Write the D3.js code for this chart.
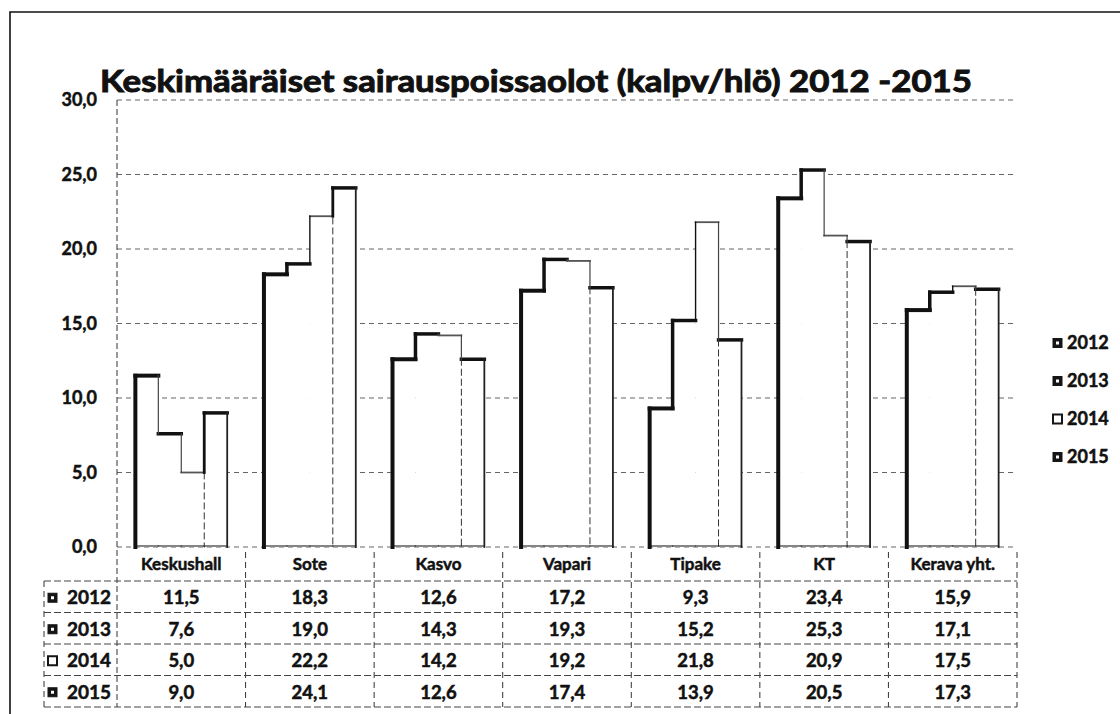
<!DOCTYPE html>
<html>
<head>
<meta charset="utf-8">
<script src="https://cdn.jsdelivr.net/npm/d3@7"></script>
<style>
  body { margin: 0; background: #fff; }
  svg { display: block; }
  text { font-family: Lato, "Open Sans", sans-serif; font-weight: bold; fill: #111; stroke: #111; stroke-width: 0.5px; }
  text.title { stroke-width: 1px; }
</style>
</head>
<body>
<div id="chart"></div>
<script>
// data
var categories = ['Keskushall', 'Sote', 'Kasvo', 'Vapari', 'Tipake', 'KT', 'Kerava yht.'];
var years = ['2012', '2013', '2014', '2015'];
var values2012 = [11.5, 18.3, 12.6, 17.2, 9.3, 23.4, 15.9];
var values2013 = [7.6, 19.0, 14.3, 19.3, 15.2, 25.3, 17.1];
var values2014 = [5.0, 22.2, 14.2, 19.2, 21.8, 20.9, 17.5];
var values2015 = [9.0, 24.1, 12.6, 17.4, 13.9, 20.5, 17.3];
var yTicks = [0, 5, 10, 15, 20, 25, 30];
var title = 'Keskimääräiset sairauspoissaolot (kalpv/hlö) 2012 -2015';

var series = [values2012, values2013, values2014, values2015];

var width = 1120, height = 714;
var plot = {left: 117, right: 1017, top: 100, bottom: 547};
var table = {left: 44, top: 581, rowH: 31.5};

var fi = d3.formatLocale({decimal: ',', thousands: ' ', grouping: [3], currency: ['', '']});
var fmt = fi.format('.1f');

var svg = d3.select('#chart').append('svg')
    .attr('width', width)
    .attr('height', height);

var x0 = d3.scaleBand()
    .domain(categories)
    .range([plot.left, plot.right])
    .paddingInner(0);

var x1 = d3.scaleBand()
    .domain(years)
    .range([0, x0.bandwidth()])
    .paddingOuter(0.8);

var y = d3.scaleLinear()
    .domain([0, 30])
    .range([plot.bottom, plot.top]);

// outer chart border (cut at right and bottom in the scan)
svg.append('path')
    .attr('d', 'M10,' + height + 'V12H' + width)
    .attr('fill', 'none')
    .attr('stroke', '#111')
    .attr('stroke-width', 1.6);

// title
svg.append('text')
    .attr('class', 'title')
    .attr('x', 100)
    .attr('y', 92)
    .attr('font-size', 31)
    .attr('textLength', 872)
    .attr('lengthAdjust', 'spacingAndGlyphs')
    .text(title);

// gridlines
svg.append('g').selectAll('line')
    .data(yTicks)
    .enter().append('line')
    .attr('x1', plot.left)
    .attr('x2', plot.right)
    .attr('y1', function(d) { return y(d); })
    .attr('y2', function(d) { return y(d); })
    .attr('stroke', '#666')
    .attr('stroke-width', 1)
    .attr('stroke-dasharray', '5,4');

// y axis line + labels
svg.append('line')
    .attr('x1', plot.left).attr('x2', plot.left)
    .attr('y1', plot.top).attr('y2', table.top + table.rowH * 4)
    .attr('stroke', '#333')
    .attr('stroke-dasharray', '6,3');

svg.append('g').selectAll('text')
    .data(yTicks)
    .enter().append('text')
    .attr('x', 97)
    .attr('y', function(d) { return y(d); })
    .attr('dy', '0.35em')
    .attr('text-anchor', 'end')
    .attr('font-size', 18)
    .text(function(d) { return fmt(d); });

// bars: white fills first, then the outline pieces the scan shows
var bars = [];
categories.forEach(function(c, ci) {
    years.forEach(function(yr, si) {
        bars.push({cat: c, year: yr, si: si, value: series[si][ci],
                   prev: si > 0 ? series[si - 1][ci] : null});
    });
});

svg.append('g').selectAll('rect')
    .data(bars)
    .enter().append('rect')
    .attr('x', function(d) { return x0(d.cat) + x1(d.year); })
    .attr('width', x1.bandwidth())
    .attr('y', function(d) { return y(d.value); })
    .attr('height', function(d) { return y(0) - y(d.value); })
    .attr('fill', '#fff');

var topWidth = [4, 3.5, 1.8, 3.5];
var topColor = ['#111', '#111', '#555', '#111'];
var riseWidth = [4, 3.5, 1.4, 2.8];

var edges = svg.append('g').attr('fill', 'none').attr('stroke-linecap', 'square');

bars.forEach(function(d) {
    var bx = x0(d.cat) + x1(d.year),
        bw = x1.bandwidth(),
        by = y(d.value);

    // bottom
    edges.append('line')
        .attr('x1', bx).attr('x2', bx + bw)
        .attr('y1', y(0) - 1).attr('y2', y(0) - 1)
        .attr('stroke', '#333').attr('stroke-width', 1.2);

    // top
    edges.append('line')
        .attr('x1', bx).attr('x2', bx + bw)
        .attr('y1', by).attr('y2', by)
        .attr('stroke', topColor[d.si]).attr('stroke-width', topWidth[d.si]);

    if (d.si === 0) {
        edges.append('line')
            .attr('x1', bx).attr('x2', bx)
            .attr('y1', by).attr('y2', y(0))
            .attr('stroke', '#111').attr('stroke-width', 4);
    } else {
        if (d.si === 3) {
            edges.append('line')
                .attr('x1', bx).attr('x2', bx)
                .attr('y1', by).attr('y2', y(0))
                .attr('stroke', '#333').attr('stroke-width', 1)
                .attr('stroke-dasharray', '6,4');
        }
        // step between neighbouring bars
        var rising = d.value > d.prev;
        edges.append('line')
            .attr('x1', bx).attr('x2', bx)
            .attr('y1', by).attr('y2', y(d.prev))
            .attr('stroke', rising ? '#111' : '#444')
            .attr('stroke-width', rising ? riseWidth[d.si] : 1.2);
    }

    if (d.si === 3) {
        edges.append('line')
            .attr('x1', bx + bw).attr('x2', bx + bw)
            .attr('y1', by).attr('y2', y(0))
            .attr('stroke', '#222').attr('stroke-width', 1.8);
    }
});

// data table
var tableBottom = table.top + table.rowH * years.length;
var sepX = categories.map(function(c) { return x0(c); }).concat([plot.right]);

svg.append('g').selectAll('line')
    .data(sepX.slice(1))
    .enter().append('line')
    .attr('x1', function(d) { return d; })
    .attr('x2', function(d) { return d; })
    .attr('y1', plot.bottom + 5)
    .attr('y2', tableBottom)
    .attr('stroke', '#333')
    .attr('stroke-dasharray', '6,4');

svg.append('line')
    .attr('x1', table.left).attr('x2', table.left)
    .attr('y1', table.top).attr('y2', tableBottom)
    .attr('stroke', '#333')
    .attr('stroke-dasharray', '6,4');

svg.append('g').selectAll('line')
    .data(d3.range(years.length + 1))
    .enter().append('line')
    .attr('x1', table.left)
    .attr('x2', plot.right)
    .attr('y1', function(i) { return table.top + i * table.rowH; })
    .attr('y2', function(i) { return table.top + i * table.rowH; })
    .attr('stroke', '#444')
    .attr('stroke-dasharray', '7,3');

svg.append('g').selectAll('text')
    .data(categories)
    .enter().append('text')
    .attr('x', function(d) { return x0(d) + x0.bandwidth() / 2; })
    .attr('y', 564)
    .attr('dy', '0.35em')
    .attr('text-anchor', 'middle')
    .attr('font-size', 17)
    .text(function(d) { return d; });

function drawMarker(g, si, mx, my) {
    g.append('rect')
        .attr('x', mx).attr('y', my - 4.5)
        .attr('width', 9).attr('height', 9)
        .attr('fill', si === 2 ? '#fff' : '#151515')
        .attr('stroke', '#151515')
        .attr('stroke-width', si === 2 ? 2 : 1);
    g.append('rect')
        .attr('x', mx + 3).attr('y', my - 1.5)
        .attr('width', 3).attr('height', 3)
        .attr('fill', '#fff');
}

years.forEach(function(yr, si) {
    var cy = table.top + table.rowH * (si + 0.5) + 1;
    var row = svg.append('g');
    drawMarker(row, si, 48, cy);
    row.append('text')
        .attr('x', 111)
        .attr('y', cy)
        .attr('dy', '0.35em')
        .attr('text-anchor', 'end')
        .attr('font-size', 19)
        .text(yr);
    row.selectAll('text.val')
        .data(series[si])
        .enter().append('text')
        .attr('class', 'val')
        .attr('x', function(d, i) { return x0(categories[i]) + x0.bandwidth() / 2; })
        .attr('y', cy)
        .attr('dy', '0.35em')
        .attr('text-anchor', 'middle')
        .attr('font-size', 18.5)
        .text(function(d) { return fmt(d); });
});

// legend
years.forEach(function(yr, si) {
    var ly = 343 + si * 38;
    var g = svg.append('g');
    drawMarker(g, si, 1053, ly);
    g.append('text')
        .attr('x', 1067)
        .attr('y', ly)
        .attr('dy', '0.35em')
        .attr('font-size', 18)
        .text(yr);
});
</script>
</body>
</html>
